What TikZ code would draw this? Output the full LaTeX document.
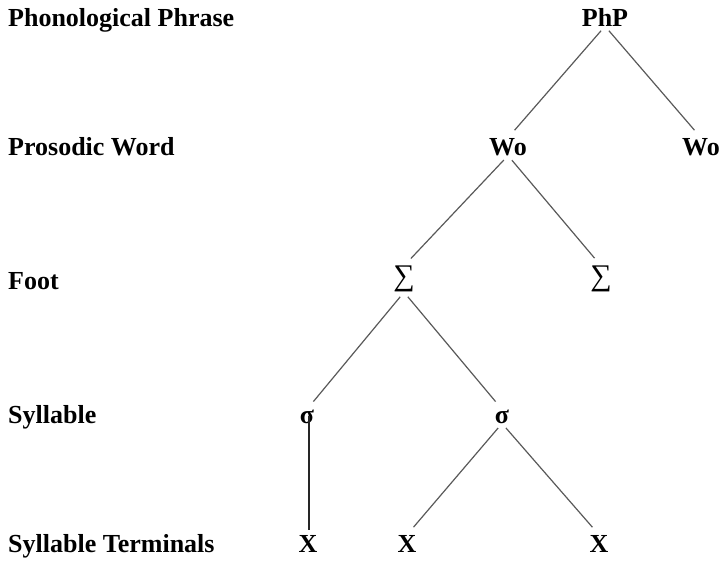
\documentclass[tikz,border=0pt]{standalone}
\usepackage{fontspec}
\setmainfont{Liberation Serif}
\usepackage{tikz}
\usetikzlibrary{positioning}
\tikzset{
  tierlabel/.style={anchor=base west, inner sep=0pt, font=\fontsize{26}{30}\selectfont\bfseries},
  unit/.style={anchor=base, inner sep=0pt, font=\fontsize{26}{30}\selectfont\bfseries},
  footsym/.style={anchor=center, inner sep=0pt, font=\fontsize{30}{32}\selectfont},
  branch/.style={draw=black!65, line width=1.2pt, shorten <=6pt, shorten >=10pt},
  stem/.style={draw=black!85, line width=1.2pt, shorten >=5pt}
}

\begin{document}
\begin{tikzpicture}[x=1pt, y=-1pt]
  \useasboundingbox (0,0) rectangle (719,560);
  % tier names
  \node[tierlabel] (lphp) at (8,26) {Phonological Phrase};
  \node[tierlabel] (lwo) at (8,155) {Prosodic Word};
  \node[tierlabel] (lft) at (8,289) {Foot};
  \node[tierlabel] (lsyl) at (8,423) {Syllable};
  \node[tierlabel] (lterm) at (8,552) {Syllable Terminals};
  % tree
  \node[unit] (php) at (605,26) {PhP};
  \node[unit] (woa) at (508,155) {Wo};
  \node[unit] (wob) at (701,155) {Wo};
  \node[footsym] (fta) at (404,279) {∑};
  \node[footsym] (ftb) at (601,279) {∑};
  \node[unit] (syla) at (307,423) {σ};
  \node[unit] (sylb) at (502,423) {σ};
  \node[unit] (xa) at (308,552) {X};
  \node[unit] (xb) at (407,552) {X};
  \node[unit] (xc) at (599,552) {X};
  \draw[branch] (php.south) -- (woa.north);
  \draw[branch] (php.south) -- (wob.north);
  \draw[branch] (woa.south) -- (fta.north);
  \draw[branch] (woa.south) -- (ftb.north);
  \draw[branch] (fta.south) -- (syla.north);
  \draw[branch] (fta.south) -- (sylb.north);
  \draw[stem] ([xshift=2pt]syla.center) -- ([xshift=1pt]xa.north);
  \draw[branch] (sylb.south) -- (xb.north);
  \draw[branch] (sylb.south) -- (xc.north);
\end{tikzpicture}
\end{document}
